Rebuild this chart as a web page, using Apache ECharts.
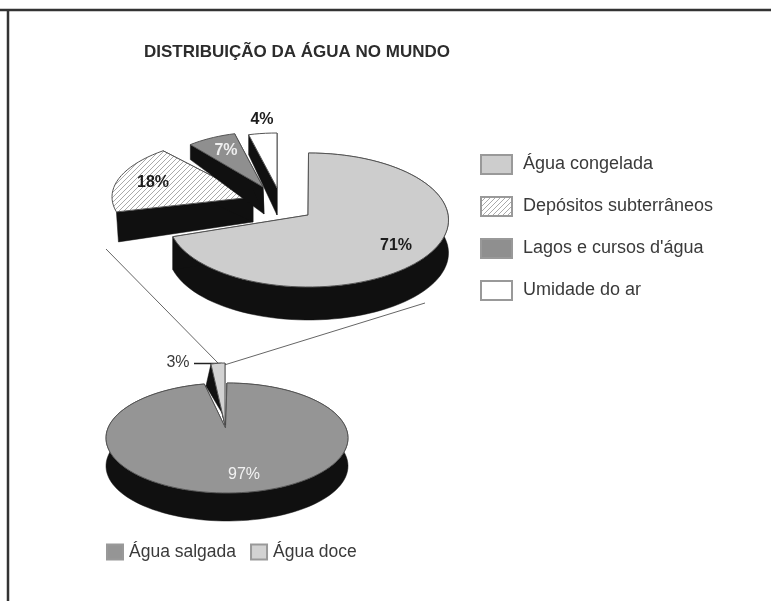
<!DOCTYPE html>
<html>
<head>
<meta charset="utf-8">
<script src="https://cdn.jsdelivr.net/npm/echarts@6/dist/echarts.min.js"></script>
<style>html,body{margin:0;padding:0;background:#fff}#c{width:771px;height:601px}</style>
</head>
<body>
<div id="c"></div>
<script>
var titleText = 'DISTRIBUIÇÃO DA ÁGUA NO MUNDO';
var freshNames = ['Água congelada', 'Depósitos subterrâneos', 'Lagos e cursos d\'água', 'Umidade do ar'];
var freshValues = [71, 18, 7, 4];
var worldNames = ['Água salgada', 'Água doce'];
var worldValues = [97, 3];

var FONT = '"Liberation Sans", Arial, sans-serif';
var BLACK = '#101010', EDGE = '#555555', TXT = '#3a3a3a';

function hatch() {
  var n = 5, cv = document.createElement('canvas');
  cv.width = n; cv.height = n;
  var g = cv.getContext('2d');
  g.fillStyle = '#fff'; g.fillRect(0, 0, n, n);
  g.strokeStyle = '#a0a0a0'; g.lineWidth = 0.9;
  [[-1, 1, 1, -1], [0, n, n, 0], [n - 1, n + 1, n + 1, n - 1]].forEach(function (l) {
    g.beginPath(); g.moveTo(l[0], l[1]); g.lineTo(l[2], l[3]); g.stroke();
  });
  return { image: cv, repeat: 'repeat' };
}
var HATCH = hatch();

// drawing geometry of each slice: ellipse centre, radii, apex, extrusion at rim and at apex, label
var freshLook = [
  { fill: '#cdcdcd', cx: 308.5, cy: 220, rx: 140, ry: 67, tx: 308, ty: 215, rim: [0, 33], apex: [0, 33], lx: 396, ly: 246, lc: '#1c1c1c', bold: true, arcSide: true },
  { fill: HATCH,     cx: 253, cy: 197, rx: 141, ry: 60, tx: 253, ty: 197, rim: [2, 30], apex: [0, 25], lx: 153, ly: 183, lc: '#1c1c1c', bold: true, arcSide: false },
  { fill: '#8f8f8f', cx: 263, cy: 187, rx: 114, ry: 55, tx: 263, ty: 187, rim: [0, 15], apex: [1, 27], lx: 226, ly: 151, lc: '#eeeeee', bold: true, arcSide: false },
  { fill: '#ffffff', cx: 277, cy: 188, rx: 114, ry: 55, tx: 277, ty: 188, rim: [0, 20], apex: [0, 27], lx: 262, ly: 120, lc: '#1c1c1c', bold: true, arcSide: false }
];
var worldLook = [
  { fill: '#959595', cx: 227, cy: 438, rx: 121, ry: 55, tx: 225.5, ty: 428, rim: [0, 28], apex: [0, 28], lx: 244, ly: 475, lc: '#f2f2f2', bold: false, arcSide: true },
  { fill: '#d2d2d2', cx: 225, cy: 425, rx: 75, ry: 62, tx: 225, ty: 425, rim: [-5, 22], apex: [-3, -12], lx: 178, ly: 363, lc: '#3a3a3a', bold: false, arcSide: false }
];

function arcPt(l, turn) {
  var a = turn * 2 * Math.PI;
  return [l.cx + l.rx * Math.sin(a), l.cy - l.ry * Math.cos(a)];
}
function shift(p, d) { return [p[0] + d[0], p[1] + d[1]]; }

function sliceShapes(look, from, to, value) {
  var arc = [], steps = Math.max(4, Math.ceil((to - from) * 120));
  for (var i = 0; i <= steps; i++) arc.push(arcPt(look, from + (to - from) * i / steps));
  var tip = [look.tx, look.ty];
  var tipLow = shift(tip, look.apex);
  var band = function (pts) { return { type: 'polygon', shape: { points: pts }, style: { fill: BLACK, stroke: BLACK, lineWidth: 0.5 }, silent: true }; };
  var arcLow = arc.map(function (p) { return shift(p, look.rim); }).reverse();
  var first = arc[0], last = arc[arc.length - 1];
  var shapes = [];
  if (look.arcSide) shapes.push(band(arc.concat(arcLow)));
  shapes.push(
    band([first, tip, tipLow, shift(first, look.rim)]),
    band([last, tip, tipLow, shift(last, look.rim)]),
    { type: 'polygon', shape: { points: [tip].concat(arc) }, style: { fill: look.fill, stroke: EDGE, lineWidth: 1, lineJoin: 'round' }, silent: true },
    { type: 'text', style: { text: value + '%', x: look.lx, y: look.ly, align: 'center', verticalAlign: 'middle', fill: look.lc, font: (look.bold ? 'bold ' : '') + '16px ' + FONT }, z2: 10, silent: true }
  );
  return shapes;
}

function pieSeries(names, values, looks, z) {
  var total = values.reduce(function (a, b) { return a + b; }, 0), acc = 0;
  return names.map(function (name, i) {
    var from = acc / total;
    acc += values[i];
    var to = acc / total;
    return {
      type: 'custom', name: name, coordinateSystem: 'none', z: z,
      itemStyle: { color: looks[i].fill, borderColor: '#999', borderWidth: 1 },
      data: [[values[i]]],
      animation: false, silent: true,
      renderItem: function (p, api) {
        return { type: 'group', children: sliceShapes(looks[i], from, to, api.value(0)) };
      }
    };
  });
}

function line(x1, y1, x2, y2, w, c) {
  return { type: 'line', shape: { x1: x1, y1: y1, x2: x2, y2: y2 }, style: { stroke: c, lineWidth: w }, silent: true };
}

var chart = echarts.init(document.getElementById('c'), null, { renderer: 'canvas' });
chart.setOption({
  animation: false,
  backgroundColor: '#ffffff',
  title: { text: titleText, left: 144, top: 44, padding: 0, textStyle: { fontFamily: FONT, fontSize: 17, fontWeight: 'bold', color: '#2c2c2c' } },
  legend: [
    { data: freshNames, orient: 'vertical', left: 480, top: 154, padding: 0, itemWidth: 31, itemHeight: 19, itemGap: 21, selectedMode: false, icon: 'rect',
      textStyle: { fontFamily: FONT, fontSize: 18, color: TXT, padding: [0, 0, 0, 6] } },
    { data: worldNames, orient: 'horizontal', left: 106, top: 543, padding: 0, itemWidth: 16, itemHeight: 15, itemGap: 14, selectedMode: false, icon: 'rect',
      textStyle: { fontFamily: FONT, fontSize: 17.5, color: TXT, padding: [0, 0, 0, 1] } }
  ],
  graphic: [
    line(0, 10, 771, 10, 2.5, '#333'),
    line(8, 10, 8, 601, 2.5, '#333'),
    line(106, 249, 218, 363, 1, '#666'),
    line(425, 303, 221, 366, 1, '#666'),
    line(194, 363.5, 222, 363.5, 1.5, '#222')
  ],
  series: pieSeries(freshNames, freshValues, freshLook, 2).concat(pieSeries(worldNames, worldValues, worldLook, 3))
});
</script>
</body>
</html>
